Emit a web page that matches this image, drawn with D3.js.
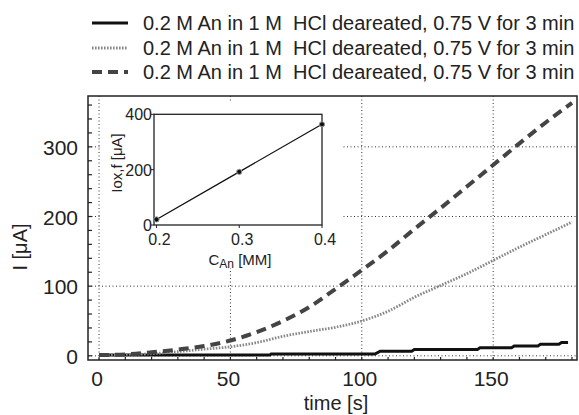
<!DOCTYPE html>
<html>
<head>
<meta charset="utf-8">
<script src="https://cdn.jsdelivr.net/npm/d3@7"></script>
<style>
body{margin:0;background:#fff;}
svg text{font-family:"Liberation Sans",Arial,sans-serif;fill:#222;}
</style>
</head>
<body>
<svg></svg>
<script>
// main traces, time in s, current in uA
var time = [0,10,20,30,40,50,60,70,80,90,100,110,120,130,140,150,160,170,180];
var dashed = [1,2,5,9,14,22,34,50,70,96,123,151,182,212,243,274,305,335,363];
var dotted = [1,2,3,6,9.5,13,19,28,35,41,50,64,84,101,118,137,156,174,192];
var solidT = [0,65,65.5,105,107,119,120,144,145,157,158,167,168,175,176,178.5];
var solidV = [1,1,2.5,2.5,6.5,6.5,9,9,11.5,11.5,14,14,16.5,16.5,19,19];
var legendText = "0.2 M An in 1 M  HCl deareated, 0.75 V for 3 min";
var xTicks = [0,50,100,150];
var yTicks = [0,100,200,300];
// inset
var conc = [0.2,0.3,0.4];
var iox = [20,192,364];
var insetX = [0.2,0.3,0.4];
var insetY = [0,200,400];

var width = 579, height = 415;
var svg = d3.select("svg").attr("width", width).attr("height", height);

var x = d3.scaleLinear().domain([-4.2,181.9]).range([88,577]);
var y = d3.scaleLinear().domain([-6,373]).range([360,96]);

// grid
svg.selectAll(".gx").data(xTicks).enter().append("line")
	.attr("x1", d => x(d)).attr("x2", d => x(d))
	.attr("y1", 96).attr("y2", 360)
	.style("stroke","#333").style("stroke-width",1).style("stroke-dasharray","1,2.5");
svg.selectAll(".gy").data(yTicks).enter().append("line")
	.attr("x1", 88).attr("x2", 577)
	.attr("y1", d => y(d)).attr("y2", d => y(d))
	.style("stroke","#333").style("stroke-width",1).style("stroke-dasharray","1,2.5");

// minor ticks inward
svg.selectAll(".ty").data(d3.range(0,361,20)).enter().append("line")
	.attr("x1", 88).attr("x2", 92)
	.attr("y1", d => y(d)).attr("y2", d => y(d))
	.style("stroke","#222").style("stroke-width",1.2);
svg.selectAll(".tx").data(d3.range(0,181,10)).enter().append("line")
	.attr("x1", d => x(d)).attr("x2", d => x(d))
	.attr("y1", 360).attr("y2", 357)
	.style("stroke","#222").style("stroke-width",1.2);

var curve = d3.line().curve(d3.curveMonotoneX).x(d => x(d[0])).y(d => y(d[1]));

svg.append("path").datum(solidT.map((t,i) => [t, solidV[i]]))
	.attr("d", d3.line().x(d => x(d[0])).y(d => y(d[1])))
	.style("fill","none").style("stroke","#111").style("stroke-width",3);
svg.append("path").datum(time.map((t,i) => [t, dotted[i]]))
	.attr("d", curve)
	.style("fill","none").style("stroke","#888").style("stroke-width",2.8).style("stroke-dasharray","1.6,1.4");
svg.append("path").datum(time.map((t,i) => [t, dashed[i]]))
	.attr("d", curve)
	.style("fill","none").style("stroke","#444").style("stroke-width",4).style("stroke-dasharray","10,6");

// frame
svg.append("rect").attr("x",88).attr("y",96).attr("width",489).attr("height",264)
	.style("fill","none").style("stroke","#222").style("stroke-width",1.5);

// tick labels
svg.selectAll(".lx").data(xTicks).enter().append("text")
	.attr("x", d => x(d) - 2).attr("y", 386).attr("text-anchor","middle")
	.style("font-size","21px").text(d => d);
svg.selectAll(".ly").data(yTicks).enter().append("text")
	.attr("x", 78).attr("y", d => y(d) + 8).attr("text-anchor","end")
	.style("font-size","21px").text(d => d);
svg.append("text").attr("x",336).attr("y",410).attr("text-anchor","middle")
	.style("font-size","20px").text("time [s]");
svg.append("text").attr("transform","translate(27,247) rotate(-90)").attr("text-anchor","middle")
	.style("font-size","20px").text("I [\u03BCA]");

// legend
var styles = [
	{c:"#111", w:3, da:null},
	{c:"#888", w:2.8, da:"1.6,1.4"},
	{c:"#444", w:4, da:"10,6"}
];
var rows = [23,48,72];
styles.forEach(function(s,i){
	svg.append("line").attr("x1",92).attr("x2",128).attr("y1",rows[i]).attr("y2",rows[i])
		.style("stroke",s.c).style("stroke-width",s.w).style("stroke-dasharray",s.da);
	svg.append("text").attr("x",143).attr("y",rows[i]+7)
		.style("font-size","20px").attr("xml:space","preserve").text(legendText);
});

// inset
svg.append("rect").attr("x",100).attr("y",103).attr("width",243).attr("height",165).style("fill","#fff");
var ix = d3.scaleLinear().domain([0.197,0.4]).range([154,322]);
var iy = d3.scaleLinear().domain([0,400]).range([225,114.3]);
var ig = svg.append("g");
ig.append("rect").attr("x",154).attr("y",114.3).attr("width",168).attr("height",110.7)
	.style("fill","none").style("stroke","#222").style("stroke-width",1.3);
ig.selectAll(".itx").data(insetX).enter().append("line")
	.attr("x1", d => ix(d)).attr("x2", d => ix(d)).attr("y1",225).attr("y2",228)
	.style("stroke","#222");
ig.selectAll(".ity").data(insetY).enter().append("line")
	.attr("x1",151).attr("x2",154).attr("y1", d => iy(d)).attr("y2", d => iy(d))
	.style("stroke","#222");
ig.selectAll(".ilx").data(insetX).enter().append("text")
	.attr("x", d => ix(d) + 3).attr("y",245).attr("text-anchor","middle")
	.style("font-size","16px").text(d => d);
ig.selectAll(".ily").data(insetY).enter().append("text")
	.attr("x",152).attr("y", d => iy(d) + 6).attr("text-anchor","end")
	.style("font-size","16px").text(d => d);
ig.append("path").datum(conc.map((c,i) => [c, iox[i]]))
	.attr("d", d3.line().x(d => ix(d[0])).y(d => iy(d[1])))
	.style("fill","none").style("stroke","#111").style("stroke-width",1.3);
ig.selectAll(".pt").data(conc).enter().append("circle")
	.attr("cx", d => ix(d)).attr("cy", (d,i) => iy(iox[i])).attr("r",2.6)
	.style("fill","#111").style("stroke","#999").style("stroke-width",1);
var xl = ig.append("text").attr("x",240).attr("y",265).attr("text-anchor","middle").style("font-size","15px");
xl.append("tspan").text("C");
xl.append("tspan").attr("dy",3).style("font-size","12px").text("An");
xl.append("tspan").attr("dy",-3).text(" [MM]");
ig.append("text").attr("transform","translate(122,163) rotate(-90)").attr("text-anchor","middle")
	.style("font-size","15px").text("Iox,f [\u03BCA]");
</script>
</body>
</html>
